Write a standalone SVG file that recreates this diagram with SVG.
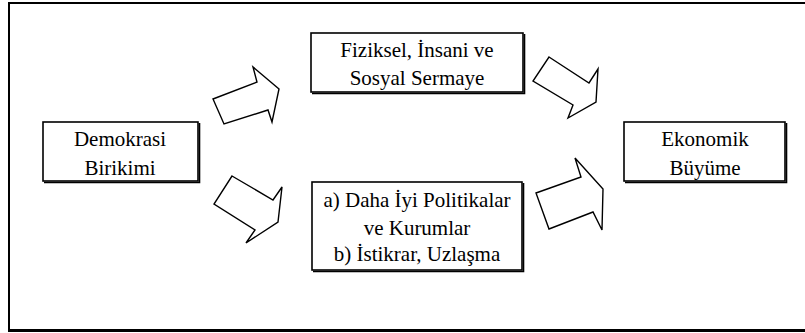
<svg xmlns="http://www.w3.org/2000/svg" width="805" height="333" viewBox="0 0 805 333">
<style>
.box{fill:#fff;stroke:#000;stroke-width:1.6}
.sh{fill:none;stroke:#000;stroke-width:1.6}
.t{font-family:"Liberation Serif","Times New Roman",serif;font-size:21px;fill:#000;text-anchor:middle}
.arr{fill:#fff;stroke:#000;stroke-width:1.4;stroke-linejoin:miter}
</style>
<rect width="805" height="333" fill="#fff"/>
<g id="frame">
<path d="M9,331 V3 H806" fill="none" stroke="#000" stroke-width="2"/>
<line x1="8" y1="330.5" x2="806" y2="330.5" stroke="#000" stroke-width="3"/>
</g>
<g id="connectors">
<polygon class="arr" points="213,99 257,82 253,67 279,89 272,122 268,110 224,124"/>
<polygon class="arr" points="549,57 589,83 598,69 596,102 568,118 573,105 533,81"/>
<polygon class="arr" points="232,176 273,200 282,187 278,222 246,243 255,230 214,204"/>
<polygon class="arr" points="536,193 581,177 575,158 603,189 602,230 593,212 549,229"/>
</g>
<g id="demokrasi">
<rect class="box" x="43" y="122" width="155" height="59"/>
<path class="sh" d="M199.5,123 V182.5 H44"/>
<text class="t" x="120" y="146">Demokrasi</text>
<text class="t" x="120" y="175">Birikimi</text>
</g>
<g id="sermaye">
<rect class="box" x="311" y="33" width="212" height="59"/>
<path class="sh" d="M524.5,34 V93.5 H312"/>
<text class="t" x="417" y="57">Fiziksel, İnsani ve</text>
<text class="t" x="417" y="85">Sosyal Sermaye</text>
</g>
<g id="politikalar">
<rect class="box" x="312" y="182" width="210" height="88"/>
<path class="sh" d="M523.5,183 V271.5 H313"/>
<text class="t" x="417" y="207">a) Daha İyi Politikalar</text>
<text class="t" x="417" y="235">ve Kurumlar</text>
<text class="t" x="417" y="261">b) İstikrar, Uzlaşma</text>
</g>
<g id="buyume">
<rect class="box" x="624" y="122" width="161" height="59"/>
<path class="sh" d="M786.5,123 V182.5 H625"/>
<text class="t" x="705" y="146">Ekonomik</text>
<text class="t" x="705" y="175">Büyüme</text>
</g>
</svg>
